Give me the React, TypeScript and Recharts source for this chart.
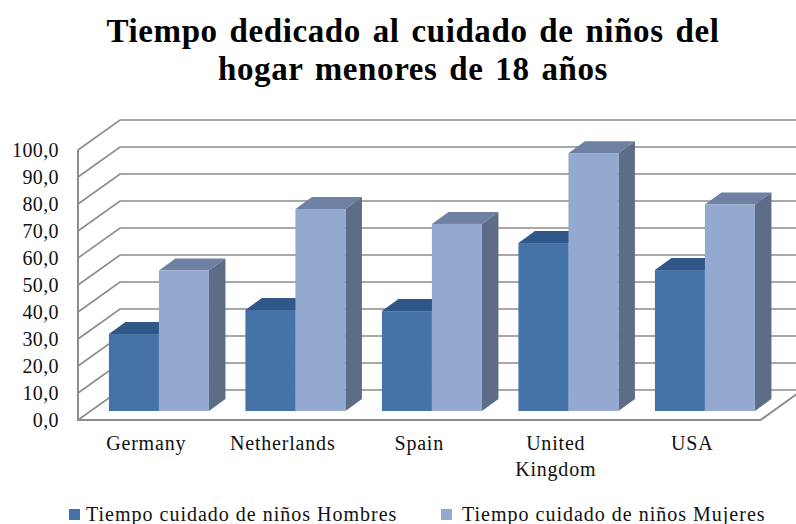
import { BarChart, Bar, XAxis, YAxis, CartesianGrid, Legend } from 'recharts';

const categories = ['Germany', 'Netherlands', 'Spain', 'United Kingdom', 'USA'];
const hombres = [28.5, 37.4, 37, 62.2, 52.2];
const mujeres = [52, 74.8, 69.3, 95.5, 76.5];
const yTicks = [0, 10, 20, 30, 40, 50, 60, 70, 80, 90, 100];

const data = categories.map((name, i) => ({ name, hombres: hombres[i], mujeres: mujeres[i] }));

const SERIF = '"Liberation Serif", serif';
const GRID = '#8c8c8c';

// depth of the fake 3D box and how far the walls sit from the bar plane
const BAR_DX = 16.5;
const BAR_DY = 12;
const FRONT_DX = 12.5;
const FRONT_DY = 9;
const WALL_DX = 29.5;
const WALL_DY = 21;

function Box3D(props: any) {
  const { x, y, width, height, front, top, side } = props;
  const r = x + width;
  const b = y + height;
  return (
    <g>
      <polygon
        points={`${x},${y} ${x + BAR_DX},${y - BAR_DY} ${r + BAR_DX},${y - BAR_DY} ${r},${y}`}
        fill={top}
      />
      <polygon
        points={`${r},${y} ${r + BAR_DX},${y - BAR_DY} ${r + BAR_DX},${b - BAR_DY} ${r},${b}`}
        fill={side}
      />
      <rect x={x} y={y} width={width} height={height} fill={front} />
    </g>
  );
}

// each gridline runs along the left wall, then along the back wall
function WallLine(props: any) {
  const { x1, x2, y1 } = props;
  const isFloor = Math.abs(y1 - 411) < 1;
  const isTop = Math.abs(y1 - 141) < 1;
  const fx = x1 - FRONT_DX;
  const fy = y1 + FRONT_DY;
  const bx = x1 + WALL_DX;
  const by = y1 - WALL_DY;
  return (
    <g fill="none" stroke={GRID} strokeWidth={1.6}>
      <polyline points={`${fx},${fy} ${bx},${by} ${x2 + WALL_DX},${by}`} />
      {isTop && <line x1={fx} y1={fy} x2={fx} y2={fy + 270} strokeWidth={2} />}
      {isFloor && (
        <polyline
          points={`${fx - 1},${fy} ${x2 - FRONT_DX},${fy} ${x2 + WALL_DX},${by}`}
          strokeWidth={2}
        />
      )}
    </g>
  );
}

function YTick({ y, payload }: any) {
  return (
    <text
      x={59}
      y={y + FRONT_DY + 7}
      textAnchor="end"
      fontFamily={SERIF}
      fontSize={20}
      letterSpacing={0.4}
      fill="#111"
    >
      {payload.value.toFixed(1).replace('.', ',')}
    </text>
  );
}

function XTick({ x, payload }: any) {
  const lines = String(payload.value).split(' ');
  return (
    <text
      textAnchor="middle"
      fontFamily={SERIF}
      fontSize={20}
      letterSpacing={0.8}
      fill="#111"
    >
      {lines.map((line, i) => (
        <tspan key={line} x={x - FRONT_DX} y={450 + i * 26}>
          {line}
        </tspan>
      ))}
    </text>
  );
}

function LegendRow({ payload }: any) {
  return (
    <div style={{ position: 'relative', height: 24, fontFamily: SERIF }}>
      {(payload || []).map((p: any, i: number) => (
        <div
          key={p.value}
          style={{
            position: 'absolute',
            left: i === 0 ? 69 : 441,
            top: 0,
            display: 'flex',
            alignItems: 'center',
            whiteSpace: 'nowrap',
            fontSize: 20,
            letterSpacing: 1,
            color: '#111',
          }}
        >
          <span style={{ width: 11, height: 11, background: p.color, marginRight: i === 0 ? 6 : 10 }} />
          {p.value}
        </div>
      ))}
    </div>
  );
}

export default function App() {
  return (
    <div style={{ position: 'absolute', left: 0, top: 0, width: 796, height: 524, background: '#fff', overflow: 'hidden' }}>
      <div
        style={{
          position: 'absolute',
          left: 0,
          top: 12,
          width: 826,
          textAlign: 'center',
          fontFamily: SERIF,
          fontWeight: 700,
          fontSize: 33,
          lineHeight: '38px',
          letterSpacing: 0.6,
          wordSpacing: 3,
          color: '#000',
        }}
      >
        Tiempo dedicado al cuidado de niños del
        <br />
        hogar menores de 18 años
      </div>
      <BarChart
        width={796}
        height={524}
        data={data}
        margin={{ top: 141, right: 23, bottom: 0, left: 0 }}
        barCategoryGap="13.5%"
        barGap={0}
      >
        <CartesianGrid horizontal={(p: any) => <WallLine key={p.y1} {...p} />} vertical={false} stroke={GRID} />
        <XAxis dataKey="name" axisLine={false} tickLine={false} height={89} interval={0} tick={<XTick />} />
        <YAxis
          domain={[0, 100]}
          ticks={yTicks}
          width={90.5}
          axisLine={false}
          tickLine={false}
          tick={<YTick />}
        />
        <Legend
          verticalAlign="bottom"
          content={<LegendRow />}
          wrapperStyle={{ position: 'absolute', left: 0, top: 503, width: 796, height: 24, bottom: 'auto' }}
        />
        <Bar
          dataKey="hombres"
          name="Tiempo cuidado de niños Hombres"
          fill="#4572a7"
          isAnimationActive={false}
          shape={(p: any) => <Box3D {...p} front="#4572a7" top="#2f5788" side="#34547a" />}
        />
        <Bar
          dataKey="mujeres"
          name="Tiempo cuidado de niños Mujeres"
          fill="#93a9cf"
          isAnimationActive={false}
          shape={(p: any) => <Box3D {...p} front="#93a9cf" top="#6e81a3" side="#5d6d88" />}
        />
      </BarChart>
    </div>
  );
}
